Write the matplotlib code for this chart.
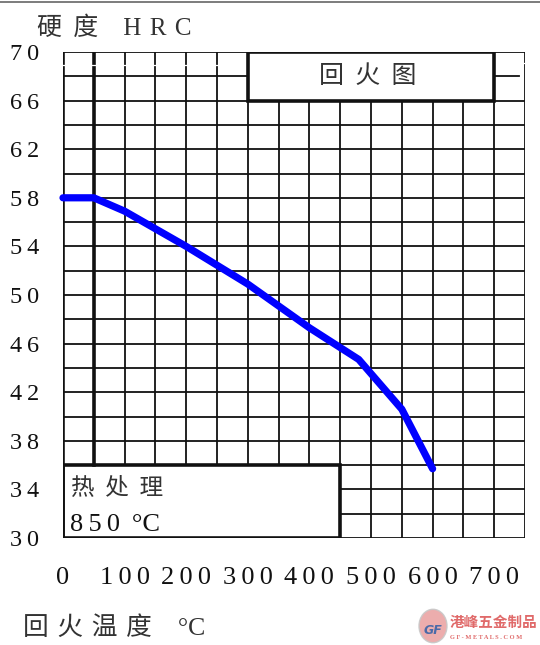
import matplotlib
matplotlib.use("Agg")
import matplotlib.pyplot as plt
from matplotlib.patches import Rectangle, Circle

plt.rcParams['font.family'] = ['Liberation Serif', 'Noto Sans CJK SC', 'DejaVu Sans']

# tempering curve
temps = [0, 50, 100, 200, 300, 400, 480, 550, 600]
hrc = [58.0, 58.0, 56.9, 54.0, 50.9, 47.3, 44.7, 40.6, 35.7]

x_ticks = [0, 100, 200, 300, 400, 500, 600, 700]
y_ticks = [30, 34, 38, 42, 46, 50, 54, 58, 62, 66, 70]

TS = "\u2009"  # thin space, the original labels are letter spaced
HS = "\u200a"  # hair space
GAP = " " + TS  # wider gap between the CJK characters
x_labels = [TS.join(str(v)) for v in x_ticks]
y_labels = [TS.join(str(v)) for v in y_ticks]

y_title = "硬" + GAP + "度" + "    H" + " " + HS + "R" + " " + HS + "C"
x_title = (" " + HS).join("回火温度") + "    °C"
box_title = GAP.join("回火图")
heat_title = GAP.join("热处理")
heat_temp = "8" + TS + "5" + TS + "0" + TS + " °C"

W, H = 540, 645
fig = plt.figure(figsize=(W / 100, H / 100), dpi=100)
ax = fig.add_axes([63 / W, 1 - 538 / H, 462 / W, 486 / H])
ax.set_xlim(0, 750)
ax.set_ylim(30, 70)
for s in ax.spines.values():
    s.set_visible(False)

GRID_LW = 1.3
THICK_LW = 2.6
INK = '#111111'

# vertical grid lines, skipping the inside of the two label boxes
for xv in range(0, 751, 50):
    if 0 < xv < 450:
        y0 = 36
    else:
        y0 = 30
    if 300 < xv < 700:
        y1 = 66
    else:
        y1 = 70
    lw = THICK_LW if xv in (0, 50) else GRID_LW
    ax.plot([xv, xv], [y0, y1], color=INK, lw=lw, solid_capstyle='projecting', zorder=2)

# horizontal grid lines
for yv in range(30, 71, 2):
    if 30 < yv < 36:
        segs = [(450, 750)]
    elif yv == 68:
        segs = [(0, 300), (700, 740)]
    elif yv == 70:
        segs = [(0, 300), (700, 750)]
    else:
        segs = [(0, 750)]
    for a, b in segs:
        ax.plot([a, b], [yv, yv], color=INK, lw=GRID_LW, solid_capstyle='projecting', zorder=2)

# little white breaks in the top row, as in the scanned original
ax.plot([0, 300], [68.95, 68.95], color='white', lw=0.9, zorder=3)
ax.plot([700, 750], [69.1, 69.1], color='white', lw=0.9, zorder=3)

# heat treatment box and title box
ax.add_patch(Rectangle((0, 30), 450, 6, fill=False, ec=INK, lw=THICK_LW, zorder=4))
ax.add_patch(Rectangle((300, 66), 400, 4, fill=False, ec=INK, lw=THICK_LW, zorder=4))

ax.plot(temps, hrc, color='#0000ff', lw=5.2, solid_capstyle='round',
        solid_joinstyle='round', zorder=5, clip_on=False)

ax.set_xticks(x_ticks)
ax.set_xticklabels(x_labels, fontsize=19, color=INK)
ax.set_yticks(y_ticks)
ax.set_yticklabels(y_labels, fontsize=17.5, color=INK)
ax.tick_params(axis='x', length=0, pad=21)
ax.tick_params(axis='y', length=0, pad=17)

ax.text(495, 68, box_title, ha='center', va='center', fontsize=18, color='#333333', zorder=6)
ax.text(13, 34.1, heat_title, ha='left', va='center', fontsize=17, color='#333333', zorder=6)
ax.text(11, 30.6, heat_temp, ha='left', va='baseline', fontsize=19, color=INK, zorder=6)

fig.text(37 / W, 1 - 35 / H, y_title, ha='left', va='baseline', fontsize=18, color='#333333')
fig.text(23 / W, 1 - 635 / H, x_title, ha='left', va='baseline', fontsize=18.5, color='#333333')

# thin border line along the top of the scan
fig.add_artist(plt.Line2D([0, 1], [1 - 1.5 / H, 1 - 1.5 / H], color='#666666', lw=1.2))

# watermark
fig.add_artist(Circle((433 / W, 1 - 626 / H), 14 / W, transform=fig.transFigure,
                      facecolor='#eaa4a4', edgecolor='#c8c8c8', lw=1.0, alpha=0.9))
fig.text(433 / W, 1 - 630 / H, "GF", ha='center', va='center', fontsize=9,
         fontweight='bold', style='italic', color='#4a6aa8', family='DejaVu Sans')
fig.text(450 / W, 1 - 627 / H, "港峰五金制品", ha='left', va='baseline', fontsize=10.5,
         fontweight='bold', color='#e06a6a', family=['Noto Sans CJK SC'])
fig.text(450 / W, 1 - 639 / H, "G F - M E T A L S . C O M", ha='left', va='baseline',
         fontsize=4.6, fontweight='bold', color='#e06a6a', family='Liberation Serif')

fig.savefig('out.png', dpi=100)
